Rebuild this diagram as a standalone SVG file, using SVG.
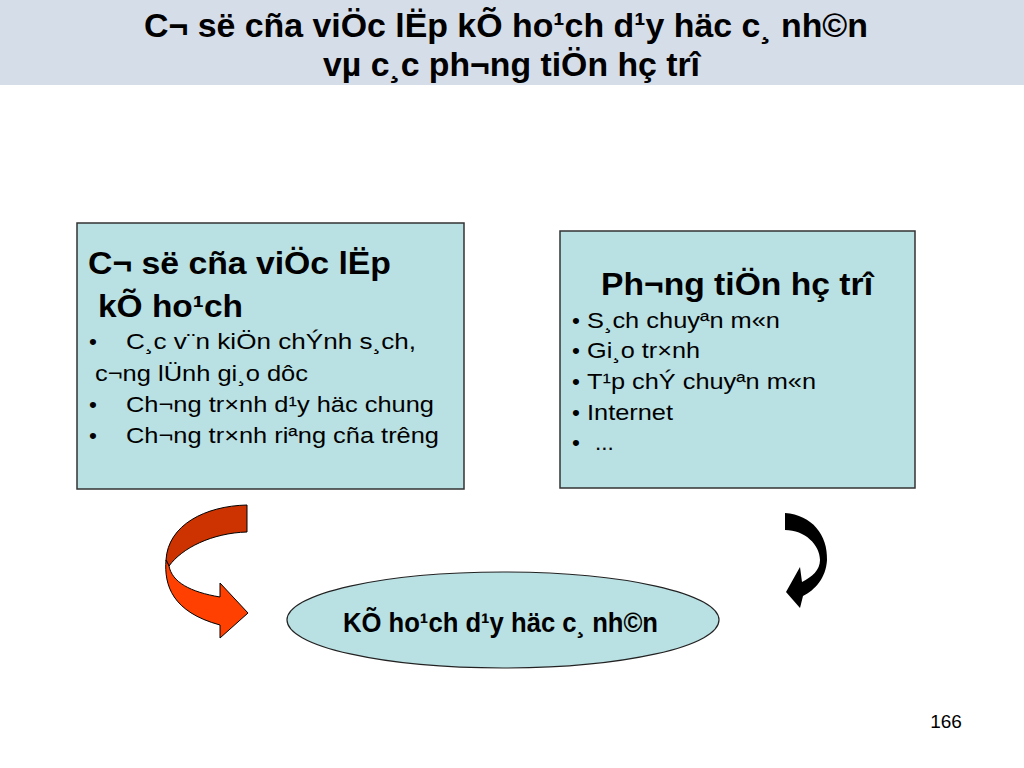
<svg xmlns="http://www.w3.org/2000/svg" width="1024" height="768" viewBox="0 0 1024 768">
<style>
.t{font-family:"Liberation Sans",Arial,sans-serif;fill:#000}
.b{font-weight:bold}
.box{fill:#b9e0e3;stroke:#333;stroke-width:1.5}
</style>
<rect width="1024" height="768" fill="#fff"/>
<g id="title">
<rect x="0" y="0" width="1024" height="85" fill="#d5dde8"/>
<text class="t b" x="144" y="37" font-size="34" textLength="724" lengthAdjust="spacingAndGlyphs">C¬ së cña viÖc lËp kÕ ho¹ch d¹y häc c¸ nh©n</text>
<text class="t b" x="323" y="76" font-size="34" textLength="377" lengthAdjust="spacingAndGlyphs">vµ c¸c ph¬ng tiÖn hç trî</text>
</g>
<g id="node-coso">
<rect class="box" x="77" y="223" width="387" height="266"/>
<text class="t b" x="88" y="274" font-size="31" textLength="303" lengthAdjust="spacingAndGlyphs">C¬ së cña viÖc lËp</text>
<text class="t b" x="98" y="317" font-size="31" textLength="145" lengthAdjust="spacingAndGlyphs">kÕ ho¹ch</text>
<g class="t" font-size="22.5">
<text x="89" y="349">•</text>
<text x="126" y="349" textLength="290" lengthAdjust="spacingAndGlyphs">C¸c v¨n kiÖn chÝnh s¸ch,</text>
<text x="95" y="381" textLength="213" lengthAdjust="spacingAndGlyphs">c¬ng lÜnh gi¸o dôc</text>
<text x="89" y="412">•</text>
<text x="126" y="412" textLength="308" lengthAdjust="spacingAndGlyphs">Ch¬ng tr×nh d¹y häc chung</text>
<text x="89" y="443">•</text>
<text x="126" y="443" textLength="313" lengthAdjust="spacingAndGlyphs">Ch¬ng tr×nh riªng cña trêng</text>
</g>
</g>
<g id="node-phuongtien">
<rect class="box" x="560" y="231" width="355" height="257"/>
<text class="t b" x="601" y="295" font-size="31" textLength="272" lengthAdjust="spacingAndGlyphs">Ph¬ng tiÖn hç trî</text>
<g class="t" font-size="22.5">
<text x="572" y="328">•</text>
<text x="587" y="328" textLength="193" lengthAdjust="spacingAndGlyphs">S¸ch chuyªn m«n</text>
<text x="572" y="358">•</text>
<text x="587" y="358" textLength="113" lengthAdjust="spacingAndGlyphs">Gi¸o tr×nh</text>
<text x="572" y="389">•</text>
<text x="587" y="389" textLength="229" lengthAdjust="spacingAndGlyphs">T¹p chÝ chuyªn m«n</text>
<text x="572" y="420">•</text>
<text x="587" y="420" textLength="86" lengthAdjust="spacingAndGlyphs">Internet</text>
<text x="572" y="450">•</text>
<text x="595" y="450">...</text>
</g>
</g>
<g id="node-kehoach">
<ellipse cx="503" cy="620" rx="216" ry="48" fill="#b9e0e3" stroke="#222" stroke-width="1.2"/>
<text class="t b" x="343" y="632" font-size="27" textLength="315" lengthAdjust="spacingAndGlyphs">KÕ ho¹ch d¹y häc c¸ nh©n</text>
</g>
<g id="connectors">
<g stroke="#000" stroke-width="1" stroke-linejoin="round">
<path d="M247,505 C205,506 168,525 166,560 L169,566 C182,548 212,533 247,532 Z" fill="#cc3300"/>
<path d="M166,560 C164,585 172,612 220,625 L220,638 L248,613 L220,583 L220,597 C190,592 172,582 169,566 Z" fill="#ff4000"/>
</g>
<path d="M785,513 C812,515 828,535 827,560 C826,578 815,590 803,596 L800,608 L786,592 L800,567 L802,582 C812,577 820,570 820,560 C820,545 805,530 785,530 Z" fill="#000"/>
</g>
<text class="t" x="946" y="728" font-size="19" text-anchor="middle">166</text>
</svg>
